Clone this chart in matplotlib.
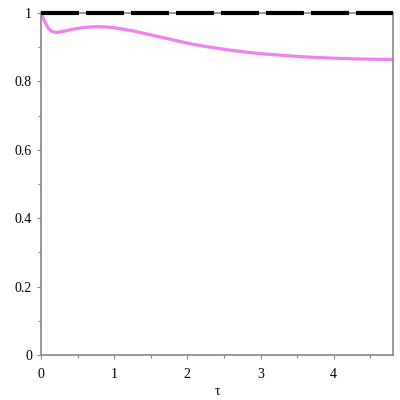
import numpy as np
import matplotlib
matplotlib.use("Agg")
import matplotlib.pyplot as plt
from matplotlib.ticker import MultipleLocator

# values
tau = [0.0, 0.05, 0.1, 0.15, 0.2, 0.3, 0.4, 0.5, 0.6, 0.75, 0.9, 1.0,
       1.25, 1.5, 1.75, 2.0, 2.25, 2.5, 2.75, 3.0, 3.25, 3.5, 3.75,
       4.0, 4.25, 4.5, 4.81]
f_curve = [1.0, 0.975, 0.955, 0.946, 0.943, 0.946, 0.951, 0.955, 0.958,
           0.960, 0.959, 0.957, 0.948, 0.936, 0.924, 0.912, 0.902, 0.894,
           0.887, 0.881, 0.877, 0.873, 0.870, 0.868, 0.866, 0.865, 0.864]
ref_x = [0.0, 4.81]
ref_y = [1.0, 1.0]

plt.rcParams['font.family'] = ['Liberation Serif', 'DejaVu Serif']

fig = plt.figure(figsize=(4, 4), dpi=100)
ax = fig.add_axes([0.1025, 0.1125, 0.88, 0.855])

ax.plot(tau, f_curve, color='#ee82ee', lw=2.3, solid_capstyle='butt')
ax.plot(ref_x, ref_y, color='black', lw=3.0, dashes=(9.1, 1.7),
        dash_capstyle='butt', clip_on=False, zorder=5)

ax.set_xlim(0, 4.81)
ax.set_ylim(0, 1)
ax.set_xticks([0, 1, 2, 3, 4])
ax.set_yticks([0, 0.2, 0.4, 0.6, 0.8, 1])
ax.set_yticklabels(['0', '0.2', '0.4', '0.6', '0.8', '1'])
ax.xaxis.set_minor_locator(MultipleLocator(0.5))
ax.yaxis.set_minor_locator(MultipleLocator(0.1))
ax.tick_params(which='both', labelsize=10, color='#888888', length=3, width=0.8)
ax.tick_params(which='minor', length=2)
ax.tick_params(axis='x', pad=6)
for s in ax.spines.values():
    s.set_color('#888888')
    s.set_linewidth(1.2)

ax.set_xlabel('τ', fontsize=10, labelpad=3)

plt.savefig("out.png", dpi=100)
